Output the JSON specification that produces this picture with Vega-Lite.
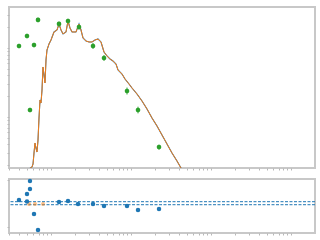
{
  "$schema": "https://vega.github.io/schema/vega-lite/v6.json",
  "padding": {"left": 5, "top": 6, "right": 5, "bottom": 5},
  "spacing": 5,
  "background": "white",
  "config": {
    "view": {"stroke": "#c8c8c8", "strokeWidth": 2},
    "axis": {"labels": false, "title": null, "domain": false, "grid": false, "ticks": true, "tickSize": 2, "tickColor": "#b8b8b8", "tickWidth": 1}
  },
  "datasets": {
    "model": [
      {"wl": 531, "flux": 0.1764}, {"wl": 579, "flux": 0.1886}, {"wl": 596, "flux": 0.2084}, {"wl": 613, "flux": 0.3008},
      {"wl": 631, "flux": 0.4201}, {"wl": 649, "flux": 0.3554}, {"wl": 668, "flux": 0.311}, {"wl": 688, "flux": 0.4642},
      {"wl": 708, "flux": 0.9672}, {"wl": 729, "flux": 1.764}, {"wl": 750, "flux": 1.596}, {"wl": 772, "flux": 2.462},
      {"wl": 794, "flux": 5.304}, {"wl": 818, "flux": 4.062}, {"wl": 841, "flux": 3.111}, {"wl": 866, "flux": 6.701},
      {"wl": 891, "flux": 9.354}, {"wl": 944, "flux": 11.43}, {"wl": 1000, "flux": 13.06}, {"wl": 1090, "flux": 17.06},
      {"wl": 1189, "flux": 18.23}, {"wl": 1259, "flux": 22.27}, {"wl": 1334, "flux": 18.23}, {"wl": 1413, "flux": 16.0},
      {"wl": 1540, "flux": 17.06}, {"wl": 1631, "flux": 24.62}, {"wl": 1728, "flux": 19.49}, {"wl": 1830, "flux": 17.06},
      {"wl": 2054, "flux": 17.06}, {"wl": 2239, "flux": 22.27}, {"wl": 2371, "flux": 18.23}, {"wl": 2512, "flux": 13.96},
      {"wl": 2738, "flux": 12.63}, {"wl": 2985, "flux": 12.22}, {"wl": 3253, "flux": 12.22}, {"wl": 3548, "flux": 13.06},
      {"wl": 3868, "flux": 13.5}, {"wl": 4217, "flux": 12.22}, {"wl": 4597, "flux": 8.75}, {"wl": 5012, "flux": 7.656},
      {"wl": 5464, "flux": 6.928}, {"wl": 5957, "flux": 6.481}, {"wl": 6494, "flux": 5.864}, {"wl": 6878, "flux": 4.799},
      {"wl": 7718, "flux": 4.2}, {"wl": 8414, "flux": 3.554}, {"wl": 9441, "flux": 3.008}, {"wl": 10292, "flux": 2.633},
      {"wl": 11885, "flux": 2.154}, {"wl": 13725, "flux": 1.706}, {"wl": 15849, "flux": 1.306}, {"wl": 18302, "flux": 0.9672},
      {"wl": 21135, "flux": 0.7407}, {"wl": 24406, "flux": 0.5484}, {"wl": 28184, "flux": 0.4062}, {"wl": 32546, "flux": 0.3008},
      {"wl": 37584, "flux": 0.2303}, {"wl": 42170, "flux": 0.1824}, {"wl": 44668, "flux": 0.165}
    ],
    "phot": [
      {"wl": 398, "flux": 10.69, "lo": 9.9, "hi": 11.5},
      {"wl": 501, "flux": 14.93, "lo": 13.8, "hi": 16.1},
      {"wl": 546, "flux": 1.262, "lo": 1.17, "hi": 1.36},
      {"wl": 613, "flux": 11.05, "lo": 10.2, "hi": 11.9},
      {"wl": 688, "flux": 25.5, "lo": 23.6, "hi": 27.5},
      {"wl": 1259, "flux": 22.3, "lo": 20.6, "hi": 24.1},
      {"wl": 1631, "flux": 24.6, "lo": 22.8, "hi": 26.6},
      {"wl": 2239, "flux": 20.1, "lo": 18.6, "hi": 21.7},
      {"wl": 3350, "flux": 10.69, "lo": 9.7, "hi": 11.8},
      {"wl": 4597, "flux": 7.16, "lo": 6.5, "hi": 7.9},
      {"wl": 8913, "flux": 2.38, "lo": 2.12, "hi": 2.67},
      {"wl": 12235, "flux": 1.262, "lo": 1.13, "hi": 1.41},
      {"wl": 22387, "flux": 0.367, "lo": 0.338, "hi": 0.398}
    ],
    "resid": [
      {"wl": 398, "r": 0.136}, {"wl": 501, "r": 0.391}, {"wl": 546, "r": 0.604}, {"wl": 546, "r": 0.945},
      {"wl": 501, "r": 0.072}, {"wl": 613, "r": -0.46}, {"wl": 688, "r": -1.14}, {"wl": 1259, "r": 0.051},
      {"wl": 1631, "r": 0.094}, {"wl": 2175, "r": -0.034}, {"wl": 3350, "r": -0.034}, {"wl": 4597, "r": -0.119},
      {"wl": 8913, "r": -0.119}, {"wl": 12235, "r": -0.289}, {"wl": 22387, "r": -0.247}
    ],
    "resid2": [
      {"wl": 531, "r": -0.034}, {"wl": 631, "r": -0.034}, {"wl": 794, "r": -0.034}
    ],
    "band": [{"r": 0.064}, {"r": -0.064}]
  },
  "vconcat": [
    {
      "width": 306,
      "height": 161,
      "layer": [
        {
          "data": {"name": "model"},
          "mark": {"type": "line", "color": "#1f77b4", "strokeWidth": 1.1, "clip": true},
          "encoding": {
            "x": {"field": "wl", "type": "quantitative", "scale": {"type": "log", "domain": [298.5, 1995262], "nice": false},
                  "axis": {"values": [300,400,500,600,700,800,900,1000,2000,3000,4000,5000,6000,7000,8000,9000,10000,20000,30000,40000,50000,60000,70000,80000,90000,100000,200000,300000,400000,500000,600000,700000,800000,900000,1000000]}},
            "y": {"field": "flux", "type": "quantitative", "scale": {"type": "log", "domain": [0.1824, 39.26], "nice": false},
                  "axis": {"values": [0.2,0.3,0.4,0.5,0.6,0.7,0.8,0.9,1,2,3,4,5,6,7,8,9,10,20,30]}}
          }
        },
        {
          "data": {"name": "model"},
          "mark": {"type": "line", "color": "#f07d1a", "strokeWidth": 1, "clip": true},
          "encoding": {
            "x": {"field": "wl", "type": "quantitative"},
            "y": {"field": "flux", "type": "quantitative"}
          }
        },
        {
          "data": {"name": "phot"},
          "mark": {"type": "rule", "color": "#2ca02c", "strokeWidth": 1},
          "encoding": {
            "x": {"field": "wl", "type": "quantitative"},
            "y": {"field": "lo", "type": "quantitative"},
            "y2": {"field": "hi"}
          }
        },
        {
          "data": {"name": "phot"},
          "mark": {"type": "point", "filled": true, "color": "#2ca02c", "size": 22, "opacity": 1},
          "encoding": {
            "x": {"field": "wl", "type": "quantitative"},
            "y": {"field": "flux", "type": "quantitative"}
          }
        }
      ]
    },
    {
      "width": 306,
      "height": 54,
      "layer": [
        {
          "data": {"name": "band"},
          "mark": {"type": "rule", "color": "#1f77b4", "strokeWidth": 1, "strokeDash": [3, 1.5]},
          "encoding": {
            "y": {"field": "r", "type": "quantitative", "scale": {"domain": [-1.268, 1.03], "nice": false, "zero": false},
                  "axis": {"values": [-1, 0, 1]}}
          }
        },
        {
          "data": {"name": "resid2"},
          "mark": {"type": "point", "filled": true, "color": "#ff7f0e", "size": 16, "opacity": 0.5},
          "encoding": {
            "x": {"field": "wl", "type": "quantitative", "scale": {"type": "log", "domain": [298.5, 1995262], "nice": false},
                  "axis": {"values": [300,400,500,600,700,800,900,1000,2000,3000,4000,5000,6000,7000,8000,9000,10000,20000,30000,40000,50000,60000,70000,80000,90000,100000,200000,300000,400000,500000,600000,700000,800000,900000,1000000]}},
            "y": {"field": "r", "type": "quantitative"}
          }
        },
        {
          "data": {"name": "resid"},
          "mark": {"type": "point", "filled": true, "color": "#1f77b4", "size": 20, "opacity": 1},
          "encoding": {
            "x": {"field": "wl", "type": "quantitative"},
            "y": {"field": "r", "type": "quantitative"}
          }
        }
      ]
    }
  ]
}
